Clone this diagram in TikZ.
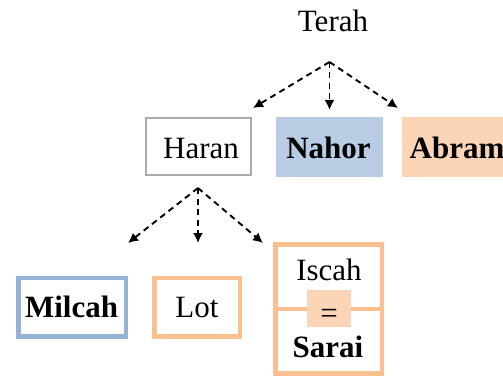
\documentclass[tikz,border=0pt]{standalone}
\usepackage{fontspec}
\setmainfont{Liberation Serif}
\usetikzlibrary{arrows.meta}
\definecolor{blueFill}{HTML}{B8CCE4}
\definecolor{orangeFill}{HTML}{FBD5B5}
\definecolor{blueLine}{HTML}{95B3D7}
\definecolor{orangeLine}{HTML}{FAC090}
\definecolor{grayLine}{HTML}{ABABAB}
\begin{document}
\begin{tikzpicture}[x=1pt,y=-1pt,
  font=\fontsize{31}{36}\selectfont,
  boxbase/.style={inner sep=0pt, outer sep=0pt},
  graybox/.style={boxbase, draw=grayLine, line width=2.3pt},
  bluebox/.style={boxbase, draw=blueLine, line width=4.5pt},
  orangebox/.style={boxbase, draw=orangeLine, line width=4.5pt},
  bluefill/.style={boxbase, fill=blueFill},
  orangefill/.style={boxbase, fill=orangeFill},
  txt/.style={inner sep=0pt, anchor=base},
  link/.style={line width=1.9pt, dash pattern=on 6pt off 4.5pt, -{Latex[length=10pt,width=10pt]}}
]
\useasboundingbox (0,0) rectangle (503,377);
\clip (0,0) rectangle (503,377);

% boxes
\node[graybox, minimum width=104.7pt, minimum height=56.7pt] (haran) at (198.5,146.5) {};
\node[bluefill, minimum width=107pt, minimum height=60pt] (nahor) at (329.5,147) {};
\node[orangefill, minimum width=110pt, minimum height=60pt] (abram) at (457,147) {};
\node[bluebox, minimum width=107.5pt, minimum height=58.5pt] (milcah) at (72,307) {};
\node[orangebox, minimum width=85.5pt, minimum height=58.5pt] (lot) at (197,307) {};
\node[orangebox, minimum width=106.5pt, minimum height=64.5pt] (iscah) at (328.5,276.5) {};
\node[orangebox, minimum width=106.5pt, minimum height=64.5pt] (sarai) at (328.5,341) {};
\node[orangefill, minimum width=44pt, minimum height=37pt] (eq) at (329,308.5) {};

% texts
\node[txt] (terahT) at (333,32) {Terah};
\node[txt] (haranT) at (201,158) {Haran};
\node[txt] (nahorT) at (328.5,158) {\textbf{Nahor}};
\node[txt] (abramT) at (457,158) {\textbf{Abram}};
\node[txt] (milcahT) at (71.5,317) {\textbf{Milcah}};
\node[txt] (lotT) at (197,317) {Lot};
\node[txt] (iscahT) at (329,280) {Iscah};
\node[txt] (saraiT) at (328,357) {\textbf{Sarai}};
\node[txt] (eqT) at (329,323) {=};

% connectors
\coordinate (t0) at (329.5,62);
\coordinate (tH) at (253,108);
\coordinate (tN) at (329.5,110);
\coordinate (tA) at (398,108);
\draw[link] (t0) -- (tH);
\draw[link] (t0) -- (tN);
\draw[link] (t0) -- (tA);

\coordinate (h0) at (198,188);
\coordinate (hM) at (128,243);
\coordinate (hL) at (198,243);
\coordinate (hI) at (263,243);
\draw[link] (h0) -- (hM);
\draw[link] (h0) -- (hL);
\draw[link] (h0) -- (hI);
\end{tikzpicture}
\end{document}
